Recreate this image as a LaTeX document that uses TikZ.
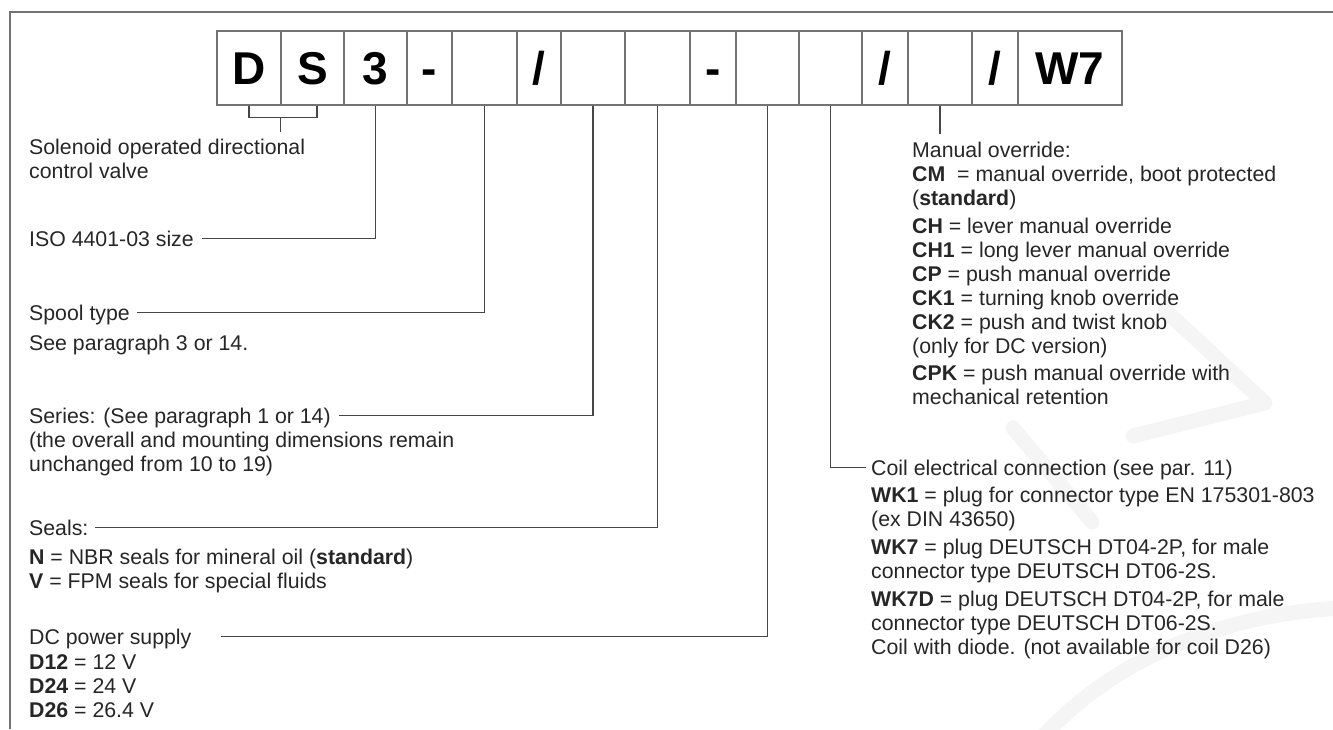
\documentclass[tikz,border=0pt]{standalone}
\usepackage{fontspec}
\setmainfont{Liberation Sans}
\newcommand{\slashch}{/}
\begin{document}
\begin{tikzpicture}[x=1pt, y=-1pt,
    codebox/.style={draw=black!55, line width=1.4pt, fill=white, inner sep=0pt,
        minimum height=74pt, text height=33pt, text depth=0pt,
        font=\fontsize{46}{50}\selectfont\bfseries},
    lead/.style={draw=black!72, line width=1.5pt},
    head/.style={anchor=base west, inner sep=0pt, text height=15pt, text depth=0pt,
        font=\fontsize{21.3}{24}\selectfont, text=black!85},
    opts/.style={anchor=north west, inner sep=0pt, align=left,
        font=\fontsize{21.3}{24}\selectfont, text=black!85}]
  \useasboundingbox (0,0) rectangle (1333,729);
  % faint logo watermark behind the text
  \begin{scope}[draw=black!4, line width=15pt, line cap=round, line join=round]
    \draw (1165,310) -- (1265,403) -- (1133,436);
    \draw (1013,428) -- (1092,522);
    \draw (1040,740) .. controls (1120,650) and (1240,612) .. (1345,608);
  \end{scope}
  % outer frame
  \draw[black!55, line width=2pt] (10,729) -- (10,12) -- (1333,12);
  % code boxes
  \foreach \l/\r/\t/\n in {217/281/D/bD, 281/344/S/bS, 344/407/3/bSize,
      407/452/-/bDashA, 452/517/{}/bSpool, 517/561/\slashch/bSlashA,
      561/625/{}/bSeries, 625/690/{}/bSeals, 690/736/-/bDashB,
      736/799/{}/bVolt, 799/862/{}/bCoil, 862/908/\slashch/bSlashB,
      908/972/{}/bOverride, 972/1018/\slashch/bSlashC, 1018/1122/W7/bW7}
    \node[codebox, minimum width={(\r-\l)*1pt}] (\n) at ({(\l+\r)/2},68) {\t};
  % left column
  \node[opts] (sol) at (29,138.6) {Solenoid operated directional\\control valve};
  \node[head] (iso) at (29,246) {ISO 4401-03 size};
  \node[head] (spool) at (29,320) {Spool type};
  \node[opts] (spoolref) at (29,334.6) {See paragraph 3 or 14.};
  \node[head] (series) at (29,423) {Series: (See paragraph 1 or 14)};
  \node[opts] (seriesnote) at (29,431.6) {(the overall and mounting dimensions remain\\unchanged from 10 to 19)};
  \node[head] (seals) at (29,535) {Seals:};
  \node[opts] (sealopts) at (29,548.6) {\textbf{N} = NBR seals for mineral oil (\textbf{standard})\\\textbf{V} = FPM seals for special fluids};
  \node[head] (volt) at (29,644) {DC power supply};
  \node[opts] (voltopts) at (29,654.6) {\textbf{D12} = 12 V\\\textbf{D24} = 24 V\\\textbf{D26} = 26.4 V};
  % right column
  \node[opts] (override) at (912,141.6) {Manual override:\\\textbf{CM}\ \ = manual override, boot protected\\(\textbf{standard})\\[4pt]%
    \textbf{CH} = lever manual override\\\textbf{CH1} = long lever manual override\\\textbf{CP} = push manual override\\%
    \textbf{CK1} = turning knob override\\\textbf{CK2} = push and twist knob\\(only for DC version)\\[3pt]%
    \textbf{CPK} = push manual override with\\mechanical retention};
  \node[head] (coil) at (871,475) {Coil electrical connection (see par. 11)};
  \node[opts] (coilopts) at (871,486.6) {\textbf{WK1} = plug for connector type EN 175301-803\\(ex DIN 43650)\\[4pt]%
    \textbf{WK7} = plug DEUTSCH DT04-2P, for male\\connector type DEUTSCH DT06-2S.\\[4pt]%
    \textbf{WK7D} = plug DEUTSCH DT04-2P, for male\\connector type DEUTSCH DT06-2S.\\Coil with diode. (not available for coil D26)};
  % leaders from the boxes
  \draw[lead] (bD.south) -- ++(0,12) coordinate (brk) -| ([xshift=4.5pt]bS.south);
  \draw[lead] (brk -| bS.west) -- ++(0,14);
  \draw[lead] (bSize.south) |- ([xshift=8pt]iso.east);
  \draw[lead] (bSpool.south) |- ([xshift=7pt]spool.east);
  \draw[lead] (bSeries.south) |- ([xshift=8pt]series.east);
  \draw[lead] (bSeals.south) |- ([xshift=6pt]seals.east);
  \draw[lead] (bVolt.south) |- ([xshift=29pt]volt.east);
  \draw[lead] (bCoil.south) |- ([xshift=-5pt]coil.west);
  \draw[lead] (bOverride.south) -- ++(0,28);
\end{tikzpicture}
\end{document}
